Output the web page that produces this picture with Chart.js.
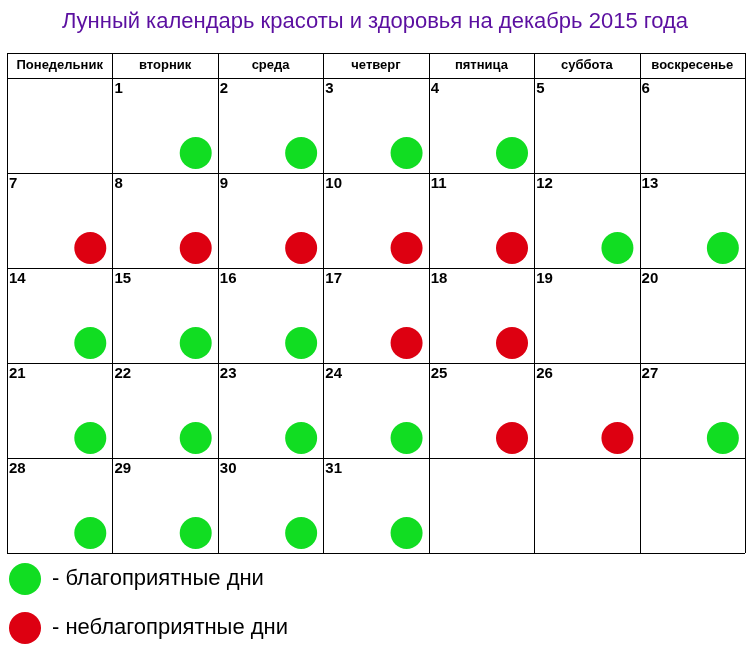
<!DOCTYPE html>
<html>
<head>
<meta charset="utf-8">
<script src="https://cdn.jsdelivr.net/npm/chart.js@4/dist/chart.umd.min.js"></script>
<style>body{margin:0;background:#fff}</style>
</head>
<body>
<canvas id="cal" width="750" height="652"></canvas>
<script>
const weekdays = ['Понедельник', 'вторник', 'среда', 'четверг', 'пятница', 'суббота', 'воскресенье'];
const firstWeekday = 1; // 1 декабря 2015 - вторник
const daysInMonth = 31;
// g - благоприятный, r - неблагоприятный, '' - нет отметки
const dayStatus = ['g','g','g','g','','',
  'r','r','r','r','r','g','g',
  'g','g','g','r','r','','',
  'g','g','g','g','r','r','g',
  'g','g','g','g'];
const GREEN = '#11dd22', RED = '#dd0011';

function cellOf(day) {
  const i = day - 1 + firstWeekday;
  return { col: i % 7, row: Math.floor(i / 7) };
}
const good = [], bad = [];
dayStatus.forEach((s, i) => {
  const c = cellOf(i + 1);
  const p = { x: c.col + 0.79, y: c.row + 0.79 };
  if (s === 'g') good.push(p);
  if (s === 'r') bad.push(p);
});

const headerH = 25 / 95;

const calendarPlugin = {
  id: 'calendar',
  beforeDatasetsDraw(chart) {
    const { ctx, scales: { x, y } } = chart;
    ctx.save();
    ctx.strokeStyle = '#000';
    ctx.lineWidth = 1;
    for (let c = 0; c <= 7; c++) {
      const px = Math.round(x.getPixelForValue(c)) + 0.5;
      ctx.beginPath(); ctx.moveTo(px, y.getPixelForValue(-headerH)); ctx.lineTo(px, y.getPixelForValue(5)); ctx.stroke();
    }
    [-headerH, 0, 1, 2, 3, 4, 5].forEach(r => {
      const py = Math.round(y.getPixelForValue(r)) + 0.5;
      ctx.beginPath(); ctx.moveTo(x.getPixelForValue(0), py); ctx.lineTo(x.getPixelForValue(7), py); ctx.stroke();
    });
    ctx.fillStyle = '#000';
    ctx.font = 'bold 13px "Liberation Sans", Arial, sans-serif';
    ctx.textAlign = 'center'; ctx.textBaseline = 'middle';
    weekdays.forEach((w, c) => ctx.fillText(w, x.getPixelForValue(c + 0.5), y.getPixelForValue(-headerH / 2)));
    ctx.font = 'bold 15px "Liberation Sans", Arial, sans-serif';
    ctx.textAlign = 'left'; ctx.textBaseline = 'top';
    for (let d = 1; d <= daysInMonth; d++) {
      const c = cellOf(d);
      ctx.fillText(String(d), x.getPixelForValue(c.col) + 2, y.getPixelForValue(c.row) + 3);
    }
    // title
    ctx.fillStyle = '#5b0fa0';
    ctx.font = '22px "Liberation Sans", Arial, sans-serif';
    ctx.textAlign = 'center'; ctx.textBaseline = 'middle';
    ctx.fillText('Лунный календарь красоты и здоровья на декабрь 2015 года', 375, 22);
    // legend
    [[GREEN, '- благоприятные дни', 579], [RED, '- неблагоприятные дни', 628]].forEach(([col, txt, py]) => {
      ctx.fillStyle = col;
      ctx.beginPath(); ctx.arc(25, py, 16, 0, Math.PI * 2); ctx.fill();
      ctx.fillStyle = '#000';
      ctx.font = '22px "Liberation Sans", Arial, sans-serif';
      ctx.textAlign = 'left';
      ctx.fillText(txt, 52, py);
    });
    ctx.restore();
  }
};

new Chart(document.getElementById('cal'), {
  type: 'scatter',
  data: {
    datasets: [
      { label: 'благоприятные дни', data: good, backgroundColor: GREEN, borderWidth: 0, pointRadius: 16 },
      { label: 'неблагоприятные дни', data: bad, backgroundColor: RED, borderWidth: 0, pointRadius: 16 }
    ]
  },
  options: {
    responsive: false,
    animation: false,
    devicePixelRatio: 1,
    layout: { autoPadding: false, padding: { left: 7, right: 5, top: 53, bottom: 99 } },
    plugins: { legend: { display: false }, tooltip: { enabled: false } },
    scales: {
      x: { type: 'linear', min: 0, max: 7, display: false },
      y: { type: 'linear', min: -headerH, max: 5, reverse: true, display: false }
    }
  },
  plugins: [calendarPlugin]
});
</script>
</body>
</html>
